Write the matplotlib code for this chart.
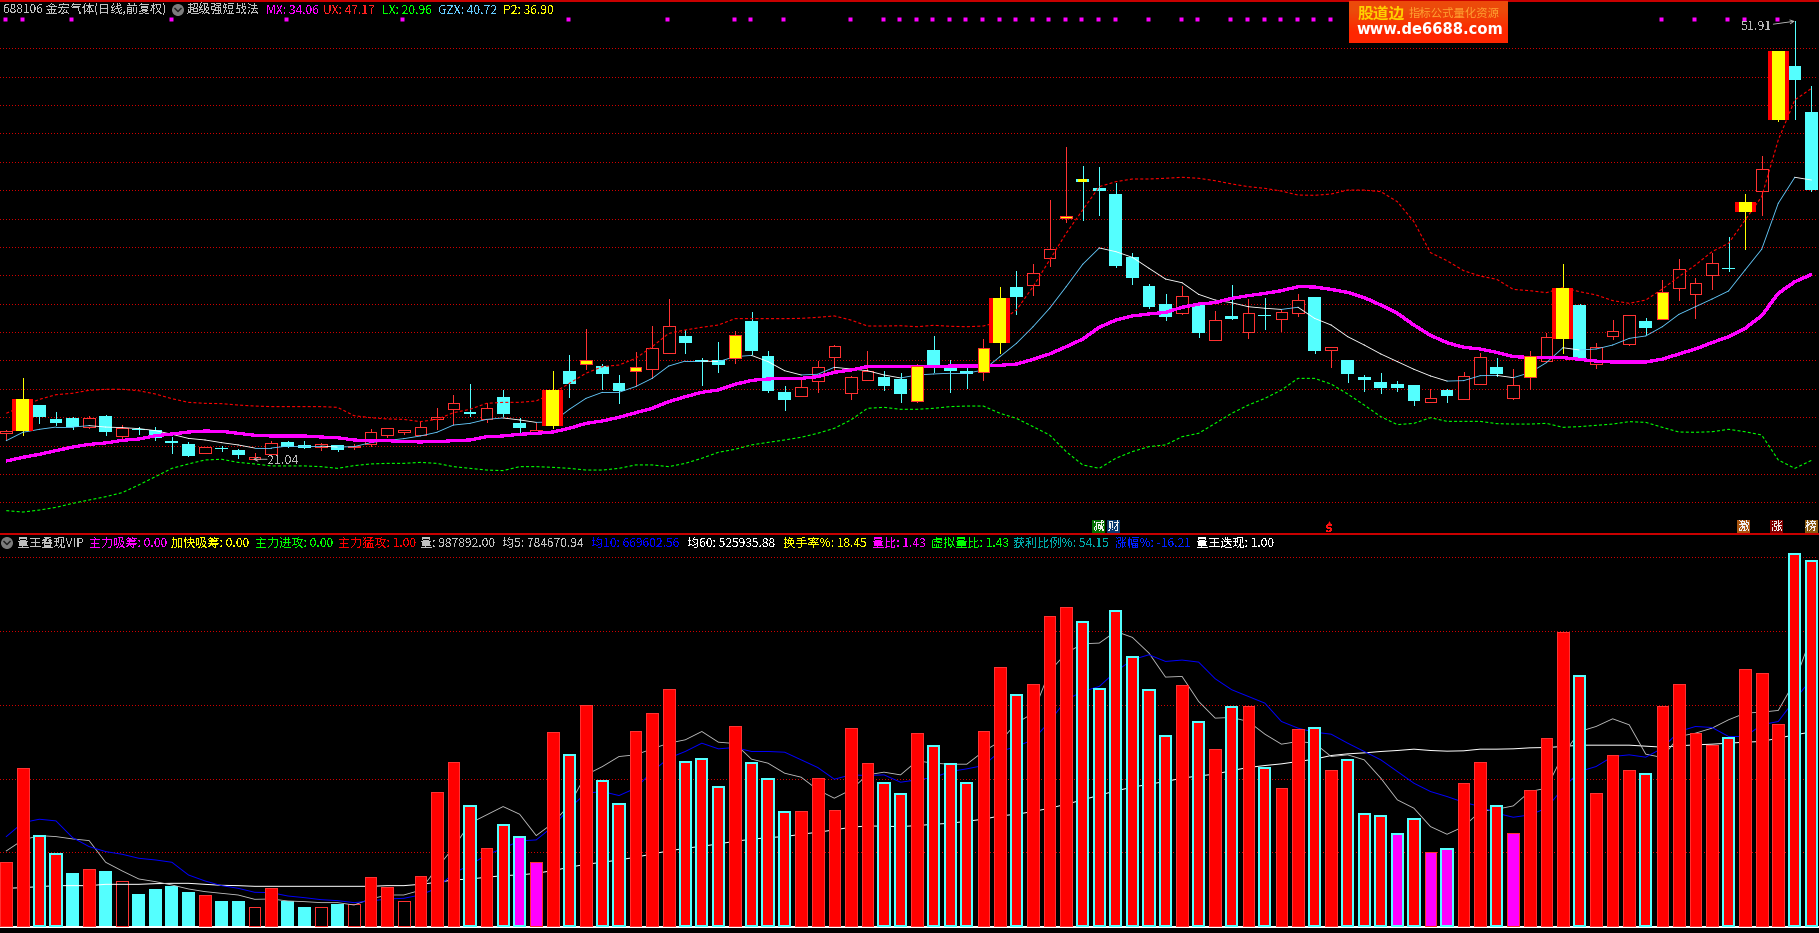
import numpy as np
import matplotlib
matplotlib.use("Agg")
import matplotlib.pyplot as plt
from matplotlib.patches import Circle, Rectangle

plt.rcParams['font.family'] = ['Noto Sans CJK SC', 'DejaVu Sans']
plt.rcParams['lines.scale_dashes'] = False
plt.rcParams['text.antialiased'] = False

W, H = 1819, 933
PX = 0.72  # one pixel in points at dpi 100
THIN = 0.62  # thin smooth lines

# 1. Daily prices
open_px = [22.87, 23.03, 24.86, 23.88, 23.95, 23.34, 24.09, 22.70, 23.20, 23.08,
           22.30, 22.12, 21.46, 21.83, 21.69, 21.05, 21.43, 22.23, 22.05, 21.93,
           22.02, 21.90, 22.09, 22.77, 22.96, 22.73, 23.85, 24.61, 24.37, 23.85,
           25.43, 23.57, 22.96, 23.38, 27.26, 27.78, 27.61, 26.41, 27.28, 27.42,
           28.50, 29.73, 27.99, 28.03, 28.18, 30.78, 28.32, 25.78, 25.52, 26.58,
           28.27, 25.73, 26.65, 26.84, 26.70, 25.15, 28.74, 27.61, 27.26, 27.19,
           29.23, 33.18, 33.32, 35.25, 38.04, 40.77, 40.16, 39.73, 35.29, 33.25,
           31.98, 31.35, 31.91, 29.47, 31.14, 30.03, 31.21, 30.95, 31.37, 32.47,
           28.76, 28.03, 26.84, 26.48, 26.34, 26.27, 25.10, 25.92, 25.31, 26.37,
           27.54, 25.38, 26.84, 27.96, 29.51, 31.91, 27.75, 29.75, 29.19, 30.78,
           30.95, 33.08, 32.66, 34.00, 34.50, 38.46, 39.97, 44.95, 48.75, 45.51]
close_px = [23.03, 25.29, 24.02, 23.60, 23.29, 23.92, 22.96, 23.27, 23.08, 22.51,
            22.21, 21.27, 21.88, 21.76, 21.34, 21.18, 22.16, 21.93, 21.86, 22.09,
            21.72, 21.97, 22.94, 23.22, 23.08, 23.29, 23.99, 24.98, 24.23, 24.63,
            24.23, 23.24, 23.08, 25.92, 26.34, 28.04, 27.05, 25.85, 27.54, 28.86,
            30.41, 29.23, 27.92, 27.68, 29.80, 28.67, 25.85, 25.22, 26.11, 27.52,
            29.00, 26.81, 27.26, 26.20, 25.64, 27.61, 27.54, 27.26, 27.07, 28.88,
            32.40, 32.47, 34.14, 35.83, 38.18, 40.60, 39.94, 34.66, 33.81, 31.77,
            31.07, 32.52, 29.94, 30.83, 30.92, 31.32, 31.14, 31.39, 32.24, 28.67,
            28.93, 27.05, 26.63, 26.06, 26.06, 25.15, 25.33, 25.50, 26.88, 28.22,
            27.05, 26.25, 28.32, 29.63, 33.11, 28.18, 28.93, 30.05, 31.18, 30.29,
            32.80, 34.42, 33.44, 34.85, 34.43, 39.17, 41.47, 49.81, 47.77, 40.01]
high_px = [23.10, 26.74, 24.86, 24.37, 24.04, 24.07, 24.16, 23.45, 23.34, 23.34,
           22.63, 22.26, 21.88, 21.97, 21.74, 21.46, 22.30, 22.30, 22.33, 22.16,
           22.07, 22.12, 23.15, 23.22, 23.08, 23.69, 24.65, 25.57, 26.34, 25.03,
           25.92, 23.92, 23.57, 27.26, 28.36, 30.22, 27.73, 26.95, 28.58, 30.43,
           32.33, 30.15, 28.15, 29.30, 30.08, 31.42, 28.67, 26.20, 26.74, 27.99,
           29.09, 26.91, 28.67, 27.26, 27.12, 27.73, 29.73, 28.03, 27.57, 29.49,
           33.18, 34.31, 34.80, 39.31, 43.05, 41.71, 41.64, 40.48, 35.58, 33.39,
           32.69, 33.25, 32.03, 31.49, 33.32, 32.33, 32.40, 31.56, 32.69, 32.47,
           28.93, 28.03, 26.98, 27.12, 26.55, 26.27, 25.99, 25.99, 27.19, 28.53,
           28.18, 27.38, 28.67, 29.94, 34.80, 31.98, 29.21, 30.85, 31.18, 30.99,
           33.67, 35.15, 33.81, 35.55, 36.68, 39.73, 42.41, 49.81, 51.91, 47.34]
low_px = [22.40, 22.75, 23.62, 23.48, 23.17, 23.22, 22.77, 22.44, 22.84, 22.40,
          21.46, 21.27, 21.46, 21.65, 21.13, 21.04, 21.41, 21.88, 21.86, 21.69,
          21.65, 21.74, 22.00, 22.61, 22.80, 22.73, 23.20, 23.50, 24.11, 23.69,
          24.09, 22.87, 22.96, 23.24, 25.45, 27.40, 25.99, 25.00, 26.23, 26.77,
          28.50, 28.53, 26.27, 27.19, 27.85, 28.46, 25.78, 24.51, 25.52, 25.78,
          27.21, 25.29, 26.65, 25.92, 25.08, 25.08, 27.19, 25.78, 26.04, 26.63,
          28.50, 31.28, 32.62, 34.66, 37.76, 37.90, 38.25, 34.59, 33.39, 31.70,
          30.85, 31.28, 29.66, 29.44, 30.92, 29.58, 30.22, 30.08, 31.14, 28.53,
          27.54, 26.48, 25.85, 25.71, 25.85, 24.86, 25.10, 25.08, 25.26, 26.37,
          26.91, 25.29, 25.99, 27.96, 28.53, 28.18, 27.47, 29.51, 29.09, 29.87,
          30.92, 32.26, 30.99, 33.04, 34.33, 35.86, 38.28, 44.90, 45.02, 39.94]

# 2. Indicator lines on the price panel
mx = [20.92, 21.18, 21.39, 21.65, 21.90, 22.09, 22.19, 22.37, 22.47, 22.70,
      22.82, 22.96, 23.03, 23.01, 22.87, 22.73, 22.68, 22.68, 22.68, 22.61,
      22.56, 22.40, 22.33, 22.35, 22.28, 22.26, 22.28, 22.35, 22.40, 22.63,
      22.68, 22.80, 22.87, 22.96, 23.22, 23.57, 23.74, 24.00, 24.32, 24.63,
      25.10, 25.45, 25.76, 25.92, 26.32, 26.60, 26.70, 26.72, 26.74, 26.86,
      27.17, 27.33, 27.57, 27.57, 27.57, 27.57, 27.57, 27.61, 27.61, 27.61,
      27.66, 27.75, 28.08, 28.46, 28.97, 29.51, 30.34, 30.85, 31.14, 31.28,
      31.39, 31.75, 31.98, 32.08, 32.38, 32.57, 32.73, 32.92, 33.20, 33.18,
      33.01, 32.80, 32.43, 31.91, 31.32, 30.50, 29.77, 29.26, 28.93, 28.81,
      28.57, 28.27, 28.22, 28.20, 28.20, 28.08, 27.96, 27.89, 27.89, 27.89,
      28.10, 28.46, 28.81, 29.26, 29.68, 30.27, 31.16, 32.73, 33.55, 34.06]
gzx = [22.35, 22.94, 23.15, 23.31, 23.31, 23.41, 23.31, 23.27, 23.20, 23.06,
       22.80, 22.51, 22.40, 22.21, 22.05, 21.83, 21.83, 21.97, 21.97, 21.97,
       21.90, 21.93, 22.21, 22.37, 22.49, 22.68, 22.94, 23.45, 23.57, 23.85,
       23.95, 23.81, 23.64, 23.67, 24.56, 25.33, 25.76, 25.76, 26.16, 26.74,
       27.61, 27.96, 27.96, 27.92, 28.27, 28.36, 27.92, 27.28, 26.98, 27.03,
       27.52, 27.40, 27.28, 26.98, 26.77, 26.98, 27.05, 27.10, 27.10, 27.33,
       28.27, 29.21, 30.38, 31.68, 33.20, 34.78, 35.93, 35.67, 35.27, 34.50,
       33.74, 33.48, 32.66, 32.26, 32.07, 31.79, 31.68, 31.60, 31.75, 30.97,
       30.50, 29.68, 29.09, 28.46, 27.92, 27.38, 26.91, 26.55, 26.58, 26.93,
       26.95, 26.79, 27.14, 27.85, 28.90, 28.74, 28.81, 29.09, 29.56, 29.73,
       30.38, 31.25, 31.79, 32.33, 32.90, 34.38, 35.84, 39.08, 40.91, 40.72]
ux = [24.28, 24.79, 25.26, 25.59, 25.69, 25.90, 25.97, 25.97, 25.87, 25.64,
      25.31, 25.05, 24.98, 24.96, 24.86, 24.79, 24.75, 24.75, 24.75, 24.75,
      24.70, 24.11, 23.97, 23.88, 23.85, 23.69, 23.85, 24.32, 24.56, 24.98,
      25.05, 25.05, 25.15, 25.69, 26.39, 27.10, 27.57, 27.68, 28.15, 28.97,
      29.91, 30.15, 30.34, 30.50, 30.95, 30.95, 30.95, 30.95, 30.97, 31.04,
      31.14, 30.85, 30.43, 30.43, 30.45, 30.38, 30.48, 30.41, 30.38, 30.43,
      30.74, 31.56, 33.20, 35.08, 36.96, 38.61, 40.25, 40.60, 40.79, 40.79,
      40.84, 40.91, 40.84, 40.67, 40.44, 40.25, 40.13, 39.94, 39.66, 39.64,
      39.73, 40.01, 40.01, 39.90, 39.19, 37.78, 35.60, 35.03, 34.33, 33.95,
      33.72, 33.01, 32.92, 32.78, 33.13, 32.85, 32.62, 32.22, 32.03, 32.26,
      33.04, 33.91, 34.73, 35.67, 36.26, 37.90, 39.55, 43.54, 46.36, 47.17]
lx = [17.42, 17.32, 17.46, 17.65, 17.93, 18.17, 18.40, 18.69, 19.23, 19.81,
      20.40, 20.71, 20.99, 21.04, 20.82, 20.71, 20.57, 20.57, 20.57, 20.52,
      20.40, 20.59, 20.71, 20.75, 20.75, 20.82, 20.75, 20.52, 20.40, 20.28,
      20.24, 20.52, 20.52, 20.47, 20.40, 20.28, 20.28, 20.40, 20.64, 20.64,
      20.52, 20.75, 21.11, 21.53, 21.74, 22.05, 22.23, 22.40, 22.59, 22.87,
      23.22, 23.81, 24.63, 24.70, 24.56, 24.56, 24.63, 24.75, 24.79, 24.79,
      24.28, 23.92, 23.34, 22.75, 21.58, 20.64, 20.40, 21.11, 21.58, 21.93,
      22.05, 22.63, 22.87, 23.57, 24.28, 24.86, 25.33, 25.92, 26.74, 26.74,
      26.34, 25.64, 24.86, 24.04, 23.48, 23.57, 23.97, 23.71, 23.71, 23.71,
      23.55, 23.52, 23.52, 23.57, 23.29, 23.34, 23.43, 23.52, 23.69, 23.64,
      23.29, 22.96, 22.94, 22.98, 23.15, 22.98, 22.75, 20.99, 20.40, 20.96]

# 3. Volume and its averages, in thousands
volume = [173.3, 428.0, 245.5, 195.8, 144.3, 154.3, 149.8, 121.8, 87.4, 101.0,
          109.1, 92.9, 83.8, 68.5, 68.5, 51.3, 102.8, 69.4, 52.2, 51.3,
          60.3, 59.4, 132.6, 105.5, 67.6, 135.3, 363.0, 444.2, 325.9, 211.2,
          274.4, 241.0, 173.3, 525.5, 464.1, 599.6, 393.7, 330.4, 528.3, 577.0,
          642.1, 444.2, 453.3, 376.5, 541.8, 441.5, 398.2, 308.7, 311.5, 400.9,
          314.2, 536.4, 441.5, 387.3, 357.5, 522.8, 487.6, 438.8, 387.3, 528.3,
          701.7, 625.8, 655.6, 839.9, 864.3, 823.6, 643.0, 853.4, 728.8, 639.4,
          514.7, 652.9, 552.6, 479.5, 593.3, 596.0, 428.0, 373.8, 533.7, 536.4,
          422.6, 449.7, 303.3, 297.9, 249.1, 289.8, 200.4, 208.5, 387.3, 444.2,
          325.0, 251.8, 368.4, 509.3, 796.5, 677.3, 360.2, 463.2, 422.6, 411.7,
          596.0, 655.6, 522.8, 491.2, 509.3, 696.3, 685.4, 547.2, 1008.8, 987.892]
ma5 = [204.0, 233.8, 245.5, 242.8, 236.5, 232.0, 173.3, 149.8, 128.1, 120.9,
       111.8, 101.0, 93.8, 89.2, 84.7, 73.0, 73.9, 68.5, 66.7, 64.0,
       64.0, 57.6, 73.9, 84.7, 84.7, 97.4, 157.0, 213.0, 278.9, 301.5,
       324.1, 303.3, 245.5, 278.9, 328.6, 409.9, 432.5, 459.6, 464.1, 480.4,
       495.7, 504.8, 527.3, 498.4, 494.8, 452.4, 441.5, 414.4, 403.6, 369.3,
       346.7, 369.3, 409.9, 417.2, 409.9, 447.9, 441.5, 438.8, 438.8, 473.2,
       500.3, 549.9, 577.0, 689.9, 739.6, 764.9, 766.7, 798.3, 782.1, 739.6,
       674.6, 676.4, 608.7, 563.5, 565.3, 554.4, 520.1, 493.0, 500.3, 495.7,
       459.6, 464.1, 450.6, 400.9, 342.2, 319.6, 269.9, 249.1, 269.9, 310.6,
       316.9, 325.9, 364.8, 373.8, 464.1, 527.3, 540.9, 561.7, 545.4, 465.9,
       456.9, 513.8, 522.8, 536.4, 559.0, 577.0, 579.7, 584.3, 662.8, 784.671]
ma10 = [242.8, 280.7, 289.8, 285.3, 240.1, 215.7, 202.2, 194.9, 184.1, 179.6,
        173.3, 138.9, 122.7, 110.0, 102.8, 92.0, 91.1, 82.0, 77.5, 72.1,
        69.4, 64.0, 68.5, 73.9, 75.7, 84.7, 102.8, 143.4, 166.0, 193.1,
        211.2, 231.1, 233.8, 269.9, 319.6, 360.2, 364.8, 353.9, 373.8, 419.0,
        455.1, 473.2, 495.7, 480.4, 484.0, 473.2, 473.2, 471.3, 450.6, 429.8,
        398.2, 409.9, 408.1, 409.9, 390.0, 396.4, 402.7, 419.0, 426.2, 435.2,
        473.2, 486.7, 504.8, 554.4, 613.2, 635.7, 649.3, 689.9, 721.6, 735.1,
        717.0, 720.7, 715.2, 670.1, 640.3, 622.2, 604.1, 554.4, 536.4, 525.5,
        520.1, 495.7, 473.2, 450.6, 419.0, 387.3, 364.8, 351.2, 335.8, 324.1,
        306.0, 295.2, 301.5, 319.6, 373.8, 419.0, 432.5, 459.6, 464.1, 457.8,
        482.2, 527.3, 540.9, 538.2, 513.8, 513.8, 545.4, 554.4, 613.2, 669.603]
ma60 = [102.8, 104.6, 107.3, 110.0, 110.0, 110.0, 113.6, 113.6, 113.6, 115.4,
        116.3, 116.3, 113.6, 110.9, 110.0, 108.2, 108.2, 108.2, 108.2, 108.2,
        108.2, 108.2, 108.2, 110.0, 110.0, 113.6, 119.0, 125.3, 128.1, 132.6,
        137.2, 139.0, 143.4, 150.7, 159.7, 167.8, 173.3, 179.6, 186.8, 195.8,
        204.0, 211.2, 216.6, 222.9, 230.2, 235.6, 240.1, 242.8, 249.1, 254.6,
        260.9, 268.1, 271.7, 270.8, 269.9, 272.6, 276.2, 278.9, 284.4, 289.8,
        298.8, 303.3, 310.6, 319.6, 330.4, 342.2, 354.8, 366.6, 376.5, 384.6,
        391.9, 400.9, 407.2, 411.7, 421.7, 429.8, 435.2, 439.7, 446.1, 452.4,
        462.3, 466.8, 469.5, 473.2, 475.9, 479.5, 475.9, 474.1, 475.0, 479.5,
        479.5, 480.4, 483.1, 484.0, 486.7, 490.3, 490.3, 490.3, 490.3, 487.6,
        484.9, 488.5, 491.2, 493.0, 495.7, 498.4, 500.3, 509.3, 518.3, 525.936]

# 4. Signal days
surge_days = [1, 33, 60, 94, 105, 107]
attack_days = [35, 38, 44, 55, 59, 64, 92, 100]
doji_signal_days = [65]
dot_days = [0, 1, 4, 10, 17, 24, 34, 40, 44, 45, 47, 51, 53, 54, 55, 56, 57, 58, 59,
            60, 61, 62, 63, 64, 65, 66, 67, 69, 71, 72, 74, 75, 76, 77, 78, 79, 80,
            100, 102, 104, 105, 107]
quiet_days = [4, 6, 7, 8, 9, 10, 11, 13, 14, 15, 17, 18, 19, 20, 21, 24]
absorb_days = [31, 32, 84, 86, 87, 91]

price_grid = list(range(18, 52, 2))
volume_grid = [200, 400, 600, 800, 1000]

# 5. Header texts
header_top = [("688106 金宏气体(日线,前复权)", 3, "#c0c0c0"), ("超级强短战法", 187, "#c0c0c0"),
              ("MX: 34.06", 265.7, "#ff00ff"), ("UX: 47.17", 323.4, "#ff2020"),
              ("LX: 20.96", 381.6, "#00ff00"), ("GZX: 40.72", 437.6, "#66ccff"),
              ("P2: 36.90", 502.6, "#ffff00")]
header_low = [("量王叠现VIP", 17, "#c0c0c0"), ("主力吸筹: 0.00", 88.8, "#ff00ff"),
              ("加快吸筹: 0.00", 171, "#ffff00"), ("主力进攻: 0.00", 254.5, "#00ff00"),
              ("主力猛攻: 1.00", 337.5, "#ff0000"), ("量: 987892.00", 420, "#c0c0c0"),
              ("均5: 784670.94", 502, "#c0c0c0"), ("均10: 669602.56", 591, "#0000ff"),
              ("均60: 525935.88", 687, "#ffffff"), ("换手率%: 18.45", 783, "#ffff00"),
              ("量比: 1.43", 872.3, "#ff00ff"), ("虚拟量比: 1.43", 931, "#00ff00"),
              ("获利比例%: 54.15", 1013.4, "#00a8a8"), ("涨幅%: -16.21", 1114.7, "#0020ff"),
              ("量王迭现: 1.00", 1195.5, "#ffffff")]
badges = [("减", 1098.5, "#007000"), ("财", 1113, "#0a3a6e"), ("激", 1743, "#a85510"),
          ("涨", 1776.5, "#800000"), ("榜", 1811, "#8a5a10")]

RED = "#ff3232"
CYAN = "#54ffff"
GRID = "#d00000"
days = np.arange(len(close_px))


def px_w(p):
    # bar index units for a width given in pixels
    return p / 16.56


fig = plt.figure(figsize=(W / 100, H / 100), dpi=100, facecolor="black")
ax = fig.add_axes([0, (H - 534) / H, 1, 534 / H], facecolor="black")
ax_vol = fig.add_axes([0, 0, 1, (H - 534) / H], facecolor="black")
for a in (ax, ax_vol):
    a.set_xlim(-0.380, 109.46)
    a.set_xticks([])
    a.set_yticks([])
    for s in a.spines.values():
        s.set_visible(False)
ax.set_ylim(15.773, 53.404)
ax_vol.set_ylim(-18.2, 1062.0)

# 6. Price panel
dot_grid = (0, (1 * PX, 2.4 * PX))
for g in price_grid:
    ax.plot([-0.38, 109.4], [g, g], color=GRID, lw=0.45, ls=dot_grid, aa=False, zorder=1)

o = np.array(open_px)
c = np.array(close_px)
hi = np.array(high_px)
lo = np.array(low_px)
up = c >= o
special = set(surge_days) | set(attack_days) | set(doji_signal_days)
plain = np.array([d not in special for d in days])

wick_colors = [RED if u else CYAN for u in up]
for d in surge_days:
    wick_colors[d] = "#ffff00"
ax.vlines(days, lo, hi, colors=wick_colors, lw=PX, antialiased=False, zorder=2)

m = up & plain
ax.bar(days[m], np.maximum(c[m] - o[m], 0.03), bottom=o[m], width=px_w(11.6), color="black",
       edgecolor=RED, linewidth=PX, antialiased=False, zorder=2.5)
m = ~up & plain
ax.bar(days[m], np.maximum(o[m] - c[m], 0.1), bottom=c[m], width=px_w(12.8), color=CYAN,
       linewidth=0, antialiased=False, zorder=2.5)

# moving band lines
band_dash = (0, (3 * PX, 2.2 * PX))
ax.plot(days, ux, color="#ff0000", lw=0.8, ls=band_dash, zorder=3)
ax.plot(days, lx, color="#00ff00", lw=0.8, ls=band_dash, zorder=3)
for i in range(len(gzx) - 1):
    col = "#66ccff" if gzx[i + 1] >= gzx[i] else "#ffffff"
    ax.plot(days[i:i + 2], gzx[i:i + 2], color=col, lw=THIN, zorder=3)
ax.plot(days, mx, color="#ff00ff", lw=2.2 * PX, aa=False, zorder=3.2, solid_capstyle="butt")

# signal candles sit on top of the lines
for d in surge_days:
    ax.bar(d, c[d] - o[d], bottom=o[d], width=px_w(21), color="#ff0000", linewidth=0, antialiased=False, zorder=4)
    ax.bar(d, c[d] - o[d], bottom=o[d], width=px_w(13), color="#ffff00", linewidth=0, antialiased=False, zorder=4.1)
for d in attack_days:
    ax.bar(d, c[d] - o[d], bottom=o[d], width=px_w(11.6), color="#ffff00", edgecolor=RED,
           linewidth=PX, antialiased=False, zorder=4)
for d in doji_signal_days:
    ax.bar(d, o[d] - c[d], bottom=c[d], width=px_w(12.8), color=CYAN, linewidth=0, antialiased=False, zorder=4)
    ax.bar(d, o[d] - c[d], bottom=c[d], width=px_w(9), color="#ffff00", linewidth=0, antialiased=False, zorder=4.1)

ax.plot(np.array(dot_days) - 0.08, [52.04] * len(dot_days), ls="none", marker="s", ms=3.6 * PX,
        mfc="#ff00ff", mec="none", aa=False, zorder=5)

# high and low callouts
ax.text(104.7, 51.55, "51.91", color="#b8b8b8", fontsize=9, va="center", ha="left", zorder=6)
ax.annotate("", xy=(108, 51.91), xytext=(106.7, 51.7), zorder=6,
            arrowprops=dict(arrowstyle="->", color="#c0c0c0", lw=THIN, shrinkA=0, shrinkB=0, mutation_scale=7))
ax.text(15.8, 20.97, "21.04", color="#b8b8b8", fontsize=9, va="center", ha="left", zorder=6)
ax.annotate("", xy=(14.9, 21.04), xytext=(15.75, 21.04), zorder=6,
            arrowprops=dict(arrowstyle="->", color="#c0c0c0", lw=THIN, shrinkA=0, shrinkB=0, mutation_scale=7))

# 7. Volume panel
for g in volume_grid:
    ax_vol.plot([-0.38, 109.4], [g, g], color=GRID, lw=0.45, ls=dot_grid, aa=False, zorder=1)
ax_vol.plot([-0.38, 109.46], [-0.8, -0.8], color="white", lw=2 * PX, aa=False, zorder=1)

v = np.array(volume)
quiet = np.isin(days, quiet_days)
absorb = np.isin(days, absorb_days)
solid = ~quiet & ~absorb

# quiet sessions stay under the averages
m = quiet & up
ax_vol.bar(days[m], v[m], width=px_w(11.6), color="none", edgecolor=RED, linewidth=PX,
           antialiased=False, zorder=2)
m = quiet & ~up
ax_vol.bar(days[m], v[m], width=px_w(12.8), color=CYAN, linewidth=0, antialiased=False, zorder=2)

ax_vol.plot(days, ma60, color="#ffffff", lw=PX, zorder=3)
ax_vol.plot(days, ma5, color="#c0c0c0", lw=THIN, zorder=3)
ax_vol.plot(days, ma10, color="#0000ff", lw=0.7, zorder=3)

for mask, fill in ((solid, "#ff0000"), (absorb, "#ff00ff")):
    m = mask & up
    ax_vol.bar(days[m], v[m], width=px_w(11.6), color=fill, edgecolor=RED, linewidth=PX,
               antialiased=False, zorder=4)
    m = mask & ~up
    ax_vol.bar(days[m], v[m], width=px_w(11.2), color=fill, edgecolor=CYAN, linewidth=1.5 * PX,
               antialiased=False, zorder=4)

# 8. Headers, badges and the logo on a pixel overlay
ov = fig.add_axes([0, 0, 1, 1], facecolor="none")
ov.set_xlim(0, W)
ov.set_ylim(H, 0)
ov.axis("off")
ov.plot([0, W], [0.8, 0.8], color="#c80000", lw=2 * PX, aa=False)
ov.plot([0, W], [534, 534], color="#c80000", lw=1.5 * PX, aa=False)

for txt, x, col in header_top:
    ov.text(x, 10.5, txt, color=col, fontsize=8.7, va="center", ha="left")
for txt, x, col in header_low:
    ov.text(x, 543, txt, color=col, fontsize=8.7, va="center", ha="left")

for cx, cy in ((178, 10), (7, 543)):
    ov.add_patch(Circle((cx, cy), 6, color="#7c7c7c", lw=0))
    ov.plot([cx - 3, cx, cx + 3], [cy - 1.5, cy + 1.5, cy - 1.5], color="#202020", lw=1.5 * PX)

for txt, x, col in badges:
    ov.add_patch(Rectangle((x - 6.5, 520), 13, 13, color=col, lw=0))
    ov.text(x, 526.5, txt, color="#f0f0f0", fontsize=8.5, va="center", ha="center")
ov.text(1329, 528.5, "S", color="#ff1010", fontsize=8, fontweight="bold", va="center", ha="center",
        family="DejaVu Sans")
ov.plot([1329], [522.5], ls="none", marker="^", ms=3.5, mfc="#ff1010", mec="none")

grad = np.array([[[236, 74, 10]], [[255, 38, 0]]], dtype=np.uint8)
ov.imshow(grad, extent=(1349, 1508, 43, 1.5), aspect="auto", interpolation="bilinear", zorder=5)
ov.set_xlim(0, W)
ov.set_ylim(H, 0)
ov.text(1381.5, 13.5, "股道边", color="#ffd000", fontsize=11.3, fontweight="bold", va="center", ha="center",
        zorder=6, antialiased=True)
ov.text(1454.5, 13.5, "指标公式量化资源", color="#ffa030", fontsize=8.2, va="center", ha="center", zorder=6,
        antialiased=True)
ov.text(1429.5, 29.5, "www.de6688.com", color="white", fontsize=10.6, fontweight="bold", va="center",
        ha="center", family="DejaVu Sans", zorder=6, antialiased=True)

fig.savefig("out.png", dpi=100, facecolor="black")
